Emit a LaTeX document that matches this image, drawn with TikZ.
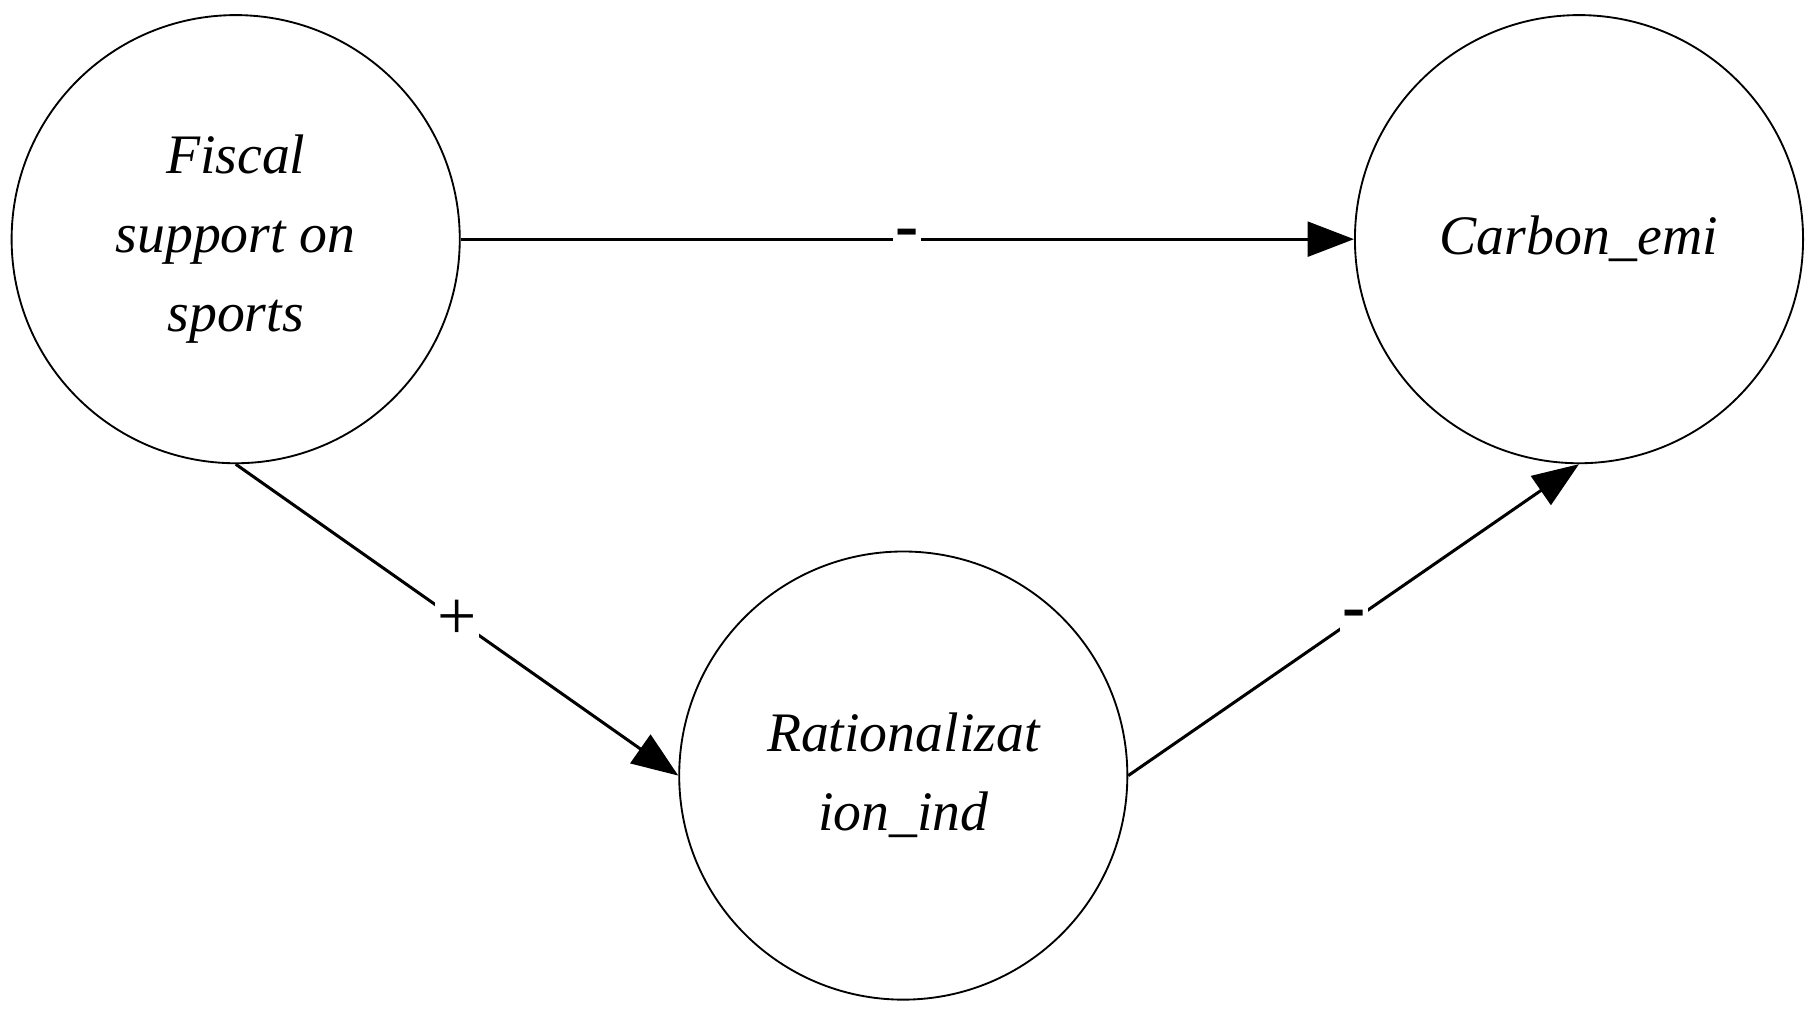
\documentclass[tikz,border=0pt]{standalone}
\usepackage{fontspec}
\setmainfont{Liberation Serif}
\usetikzlibrary{arrows.meta}
\begin{document}
\begin{tikzpicture}[x=1pt,y=-1pt,
  var/.style={circle,draw,line width=1.6pt,minimum size=386pt,inner sep=0pt,align=center,font=\fontsize{48}{68}\selectfont\itshape},
  conn/.style={line width=2.6pt,-{Triangle[length=40pt,width=30pt]}},
  sign/.style={fill=white,inner sep=2pt,font=\fontsize{60}{60}\selectfont}]
\useasboundingbox (0,0) rectangle (1565,870);
\node[var] (f) at (203,206) {Fiscal\\support on\\sports};
\node[var] (c) at (1360,206) {Carbon\_emi};
\node[var] (r) at (778,668) {Rationalizat\\ion\_ind};
\draw[conn] (f.east) -- node[sign,font=\fontsize{60}{60}\selectfont\bfseries]{-} (c.west);
\draw[conn] (f.south) -- node[sign,pos=0.5]{+} (r.west);
\draw[conn] (r.east) -- node[sign,pos=0.5,font=\fontsize{60}{60}\selectfont\bfseries]{-} (c.south);
\end{tikzpicture}
\end{document}
